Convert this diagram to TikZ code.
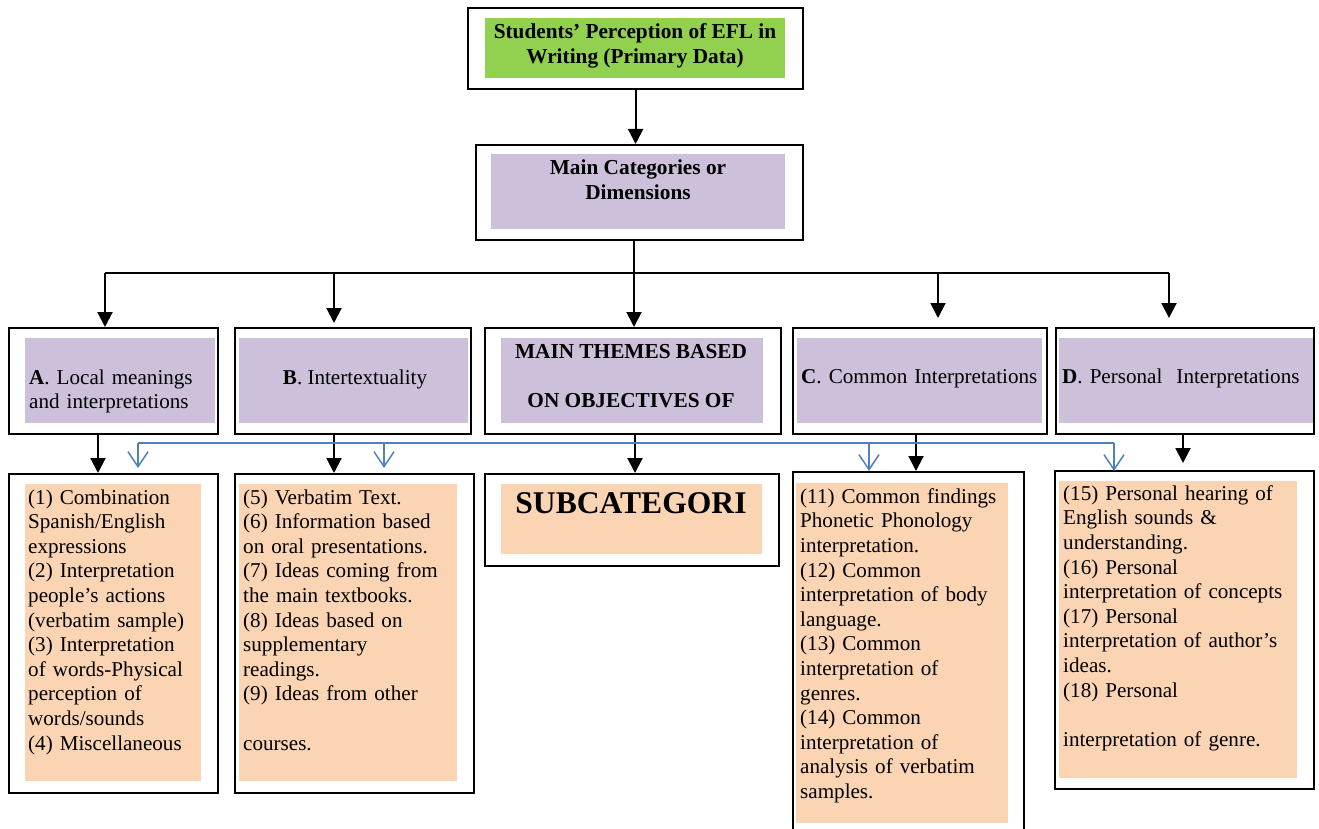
\documentclass[tikz,border=0pt]{standalone}
\usepackage{fontspec}
\setmainfont{Liberation Serif}
\usetikzlibrary{arrows.meta}

\definecolor{titlegreen}{HTML}{92D050}
\definecolor{dimpurple}{HTML}{CCC0DA}
\definecolor{subpeach}{HTML}{FBD4B4}
\definecolor{linkblue}{HTML}{4F81BD}

\tikzset{
  frame/.style={draw, line width=2.2pt, inner sep=0pt, anchor=north west},
  panel/.style={fill=#1, inner sep=0pt, anchor=north west},
  boxtext/.style={inner sep=0pt, anchor=north west, align=left, text width=255pt,
    font=\fontsize{21.1}{24.6}\selectfont},
  headtext/.style={inner sep=0pt, anchor=north, align=center,
    font=\bfseries\fontsize{21.3}{25}\selectfont},
  link/.style={line width=2pt},
  linkarr/.style={link, -{Triangle[length=15pt,width=15pt]}},
  bluelink/.style={draw=linkblue, line width=1.5pt},
  bluearr/.style={bluelink, -{Straight Barb[length=15pt,width=20pt]}}
}

\begin{document}
\begin{tikzpicture}[x=1pt, y=-1pt]
    \useasboundingbox (0,0) rectangle (1319,829);

    % Coloured panels: name/x/y/width/height/colour
    \foreach \n/\x/\y/\w/\h/\c in {
        titlef/485/18/300/60/titlegreen, mainf/491/154/294/75/dimpurple,
        Af/25/338/190/85/dimpurple, Bf/239/338/229/85/dimpurple,
        Mf/501/338/262/85/dimpurple, Cf/797/338/245/85/dimpurple,
        Df/1059/338/254/85/dimpurple,
        A3f/25/484/176/297/subpeach, B3f/239/484/218/297/subpeach,
        M3f/501/484/261/70/subpeach, C3f/796/483/212/340/subpeach,
        D3f/1059/481/238/297/subpeach} {
      \node[panel=\c, minimum width=\w pt, minimum height=\h pt] (\n) at (\x,\y) {};
    }

    % Outer frames: name/x/y/width/height
    \foreach \n/\x/\y/\w/\h in {
        title/467/7/335/81, main/475/144/327/95,
        A/8/327/209/106, B/234/327/236/106, M/484/327/296/106,
        C/792/327/254/106, D/1055/327/258/106,
        A3/8/473/209/319, B3/234/473/239/319, M3/484/473/294/92,
        C3/792/471/231/380, D3/1054/470/259/318} {
      \node[frame, minimum width=\w pt, minimum height=\h pt] (\n) at (\x,\y) {};
    }

    % Heading texts
    \node[headtext] (titlet) at (635,23.4) {Students' Perception of EFL in\\Writing (Primary Data)};
    \node[headtext] (maint) at (638,159.4) {Main Categories or\\Dimensions};
    \node[boxtext] (At) at (29,369.4) {\textbf{A}. Local meanings\\and interpretations};
    \node[headtext, font=\fontsize{21.1}{25}\selectfont] (Bt) at (355,369.4) {\textbf{B}. Intertextuality};
    \node[headtext, font=\bfseries\fontsize{21.3}{49}\selectfont] (Mt) at (631,343.9)
      {MAIN THEMES BASED\\ON OBJECTIVES OF};
    \node[boxtext] (Ct) at (801,369) {\textbf{C}. Common Interpretations};
    \node[boxtext] (Dt) at (1062,368.5) {\textbf{D}. Personal\ \ Interpretations};

    % Subcategory texts
    \node[boxtext] (A3t) at (28,489.2) {(1) Combination\\Spanish/English\\expressions\\
      (2) Interpretation\\people's actions\\(verbatim sample)\\(3) Interpretation\\
      of words-Physical\\perception of\\words/sounds\\(4) Miscellaneous};
    \node[boxtext] (B3t) at (243,489.2) {(5) Verbatim Text.\\(6) Information based\\
      on oral presentations.\\(7) Ideas coming from\\the main textbooks.\\
      (8) Ideas based on\\supplementary\\readings.\\(9) Ideas from other\\\mbox{}\\courses.};
    \node[headtext, font=\bfseries\fontsize{31.6}{36}\selectfont] (M3t) at (631,492.3) {SUBCATEGORI};
    \node[boxtext] (C3t) at (800,488.2) {(11) Common findings\\Phonetic Phonology\\
      interpretation.\\(12) Common\\interpretation of body\\language.\\(13) Common\\
      interpretation of\\genres.\\(14) Common\\interpretation of\\analysis of verbatim\\samples.};
    \node[boxtext] (D3t) at (1063,485.2) {(15) Personal hearing of\\English sounds \&\\
      understanding.\\(16) Personal\\interpretation of concepts\\(17) Personal\\
      interpretation of author's\\ideas.\\(18) Personal\\\mbox{}\\interpretation of genre.};

    % Title down to the categories
    \draw[linkarr] (title.south) -- (title.south |- main.north);

    % Bus to the five dimensions
    \coordinate (bus) at (634,273);
    \coordinate (busL) at (105,273);
    \coordinate (busR) at (1169,273);
    \draw[link] (bus |- main.south) -- (bus);
    \draw[link] (busL) -- (busR);
    \foreach \n/\x/\s in {A/105/0, B/334/4, M/634/0, C/938/9, D/1169/9} {
      \coordinate (k) at (\x,273);
      \draw[linkarr, shorten >=\s pt] (k) -- (k |- \n.north);
    }

    % Dimensions down to their subcategories
    \foreach \n/\x/\s in {A/98/0, B/334/0, M/635/0, C/916/0, D/1183/7} {
      \coordinate (k) at (\x,0);
      \draw[linkarr, shorten >=\s pt] (k |- \n.south) -- (k |- \n3.north);
    }

    % Blue cross links
    \coordinate (blL) at (138,443);
    \coordinate (blR) at (1114,443);
    \draw[bluelink] (blL) -- (blR);
    \foreach \x/\y in {138/468, 384/468, 869/471, 1114/471} {
      \coordinate (b) at (\x,443);
      \draw[bluearr] (b) -- (\x,\y);
    }
\end{tikzpicture}
\end{document}
